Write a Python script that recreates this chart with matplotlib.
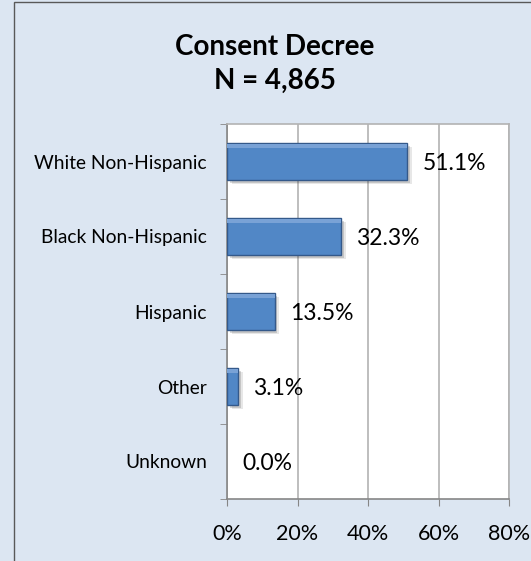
import matplotlib.pyplot as plt
import matplotlib.patheffects as pe
from matplotlib.patches import Rectangle
from matplotlib.ticker import MultipleLocator, FixedLocator

# data
categories = ['White Non-Hispanic', 'Black Non-Hispanic', 'Hispanic', 'Other', 'Unknown']
values = [51.1, 32.3, 13.5, 3.1, 0.0]
x_ticks = [0, 20, 40, 60, 80]
x_labels = ['0%', '20%', '40%', '60%', '80%']

plt.rcParams['font.family'] = ['Lato', 'DejaVu Sans']

fig = plt.figure(figsize=(5.31, 5.61), dpi=100)
fig.patch.set_facecolor('#dce6f2')

# chart border (only left and top show in the reference)
fig.patches.append(Rectangle((14 / 531, -0.1), 1.2, 1.1 - 2 / 561,
                             transform=fig.transFigure, fill=False,
                             edgecolor='#595959', linewidth=1.0))

ax = fig.add_axes([227 / 531, 62 / 561, 282 / 531, 375 / 561])
ax.set_facecolor('white')

ypos = list(range(len(categories)))[::-1]
bars = ax.barh(ypos, values, height=0.49, color='#5187c6',
               edgecolor='#34598a', linewidth=1.0, zorder=3)
for b, v in zip(bars, values):
    if v == 0:
        b.set_linewidth(0)
    b.set_path_effects([pe.SimplePatchShadow(offset=(3.5, -3), alpha=0.12, shadow_rgbFace='#404040'),
                        pe.SimplePatchShadow(offset=(2, -2), alpha=0.2, shadow_rgbFace='#404040'),
                        pe.Normal()])

# soft bevel highlight along the top of each bar
ax.barh([y + 0.205 for y in ypos], values, height=0.05, color='#79a2d6',
        linewidth=0, zorder=4)

for y, v in zip(ypos, values):
    ax.annotate(f'{v:.1f}%', (v, y), xytext=(11, -1.5), textcoords='offset points',
                va='center', ha='left', fontsize=16.5, color='black', zorder=5)

ax.set_xlim(0, 80)
ax.set_ylim(-0.5, len(categories) - 0.5)
ax.xaxis.set_major_locator(FixedLocator(x_ticks))
ax.set_xticklabels(x_labels, fontsize=15.5)
ax.set_yticks(ypos)
ax.set_yticklabels(categories, fontsize=13.8)
ax.yaxis.set_minor_locator(MultipleLocator(1, offset=0.5))
ax.tick_params(axis='y', which='major', length=0, pad=14.5)
ax.tick_params(axis='y', which='minor', length=5, color='#868686', direction='out')
ax.tick_params(axis='x', length=5, color='#868686', direction='out', pad=13)

ax.grid(axis='x', color='#b3b3b3', linewidth=1.2, zorder=0)
for s in ['top', 'right']:
    ax.spines[s].set_color('#b3b3b3')
    ax.spines[s].set_linewidth(1.2)
for s in ['left', 'bottom']:
    ax.spines[s].set_color('#868686')
    ax.spines[s].set_linewidth(1.2)

fig.text(275 / 531, 1 - 47 / 561, 'Consent Decree', ha='center', va='center',
         fontsize=20, fontweight='bold')
fig.text(275 / 531, 1 - 81 / 561, 'N = 4,865', ha='center', va='center',
         fontsize=20, fontweight='bold')

fig.savefig('out.png', dpi=100, facecolor=fig.get_facecolor())
